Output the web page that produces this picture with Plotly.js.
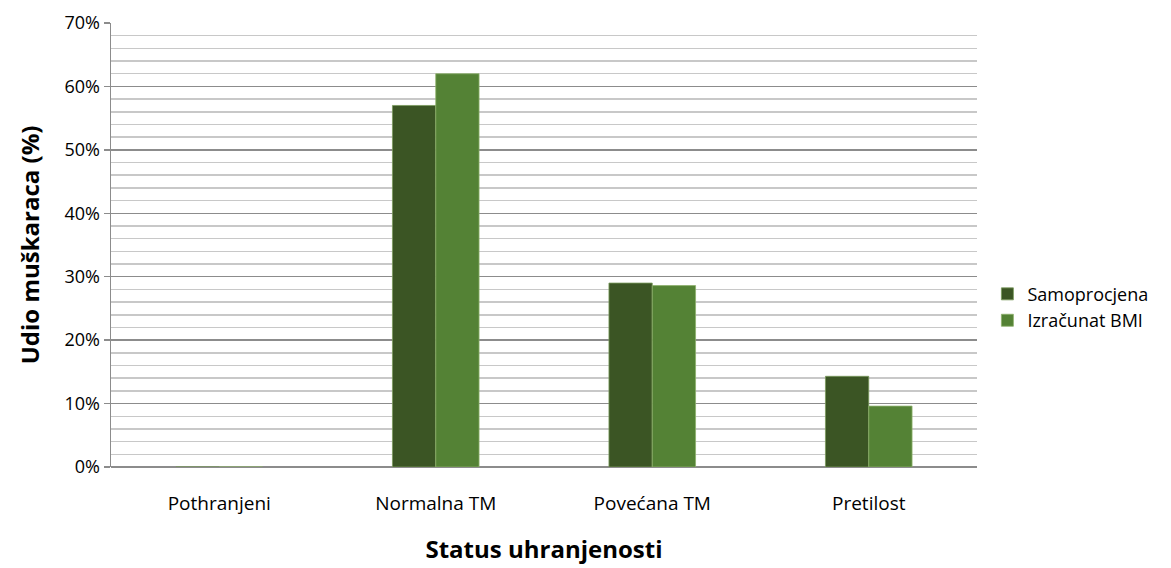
<!DOCTYPE html>
<html>
<head>
<meta charset="utf-8">
<script src="https://cdn.plot.ly/plotly-3.0.1.min.js"></script>
<style>html,body{margin:0;padding:0;background:#fff;}#chart{width:1171px;height:568px;}</style>
</head>
<body>
<div id="chart"></div>
<script>
const categories = ["Pothranjeni", "Normalna TM", "Povećana TM", "Pretilost"];
const samoprocjena = [0, 57.0, 29.0, 14.3];
const izracunatBMI = [0, 62.0, 28.6, 9.6];
const seriesNames = ["Samoprocjena", "Izračunat BMI"];
const yTickVals = [0, 10, 20, 30, 40, 50, 60, 70];
const yTickText = ["0%", "10%", "20%", "30%", "40%", "50%", "60%", "70%"];

const FONT = "'Open Sans', 'Noto Sans', sans-serif";

const traces = [
  {type: "bar", x: categories, y: samoprocjena, name: seriesNames[0],
   marker: {color: "#3B5524", line: {color: "#7A9A5C", width: 0.8}}},
  {type: "bar", x: categories, y: izracunatBMI, name: seriesNames[1],
   marker: {color: "#548235", line: {color: "#8DB06B", width: 0.8}}}
];

const layout = {
  width: 1171, height: 568,
  margin: {l: 111, r: 194, t: 23, b: 101},
  paper_bgcolor: "#fff", plot_bgcolor: "#fff",
  font: {family: FONT, color: "#000", size: 18},
  barmode: "group", bargap: 0.6, bargroupgap: 0,
  showlegend: true,
  legend: {x: 1.012, y: 0.36, xanchor: "left", yanchor: "middle",
           font: {family: FONT, size: 18, color: "#000"}, itemwidth: 30},
  xaxis: {
    type: "category", automargin: false,
    showline: false, showgrid: false, zeroline: false, ticks: "",
    ticklabelstandoff: 23,
    tickfont: {family: FONT, size: 19, color: "#000"},
    title: {text: "<b>Status uhranjenosti</b>", font: {family: FONT, size: 24, color: "#000"}, standoff: 26}
  },
  yaxis: {
    range: [0, 70], tickvals: yTickVals, ticktext: yTickText, automargin: false,
    showline: true, linecolor: "#8c8c8c", linewidth: 1.5,
    ticks: "outside", ticklen: 6, tickcolor: "#8c8c8c", tickwidth: 1.5,
    showgrid: true, gridcolor: "#8c8c8c", gridwidth: 1.5,
    minor: {dtick: 2, showgrid: true, gridcolor: "#c8c8c8", gridwidth: 1.5},
    zeroline: true, zerolinecolor: "#8c8c8c", zerolinewidth: 1.5,
    tickfont: {family: FONT, size: 18, color: "#000"},
    title: {text: "<b>Udio muškaraca (%)</b>", font: {family: FONT, size: 24, color: "#000"}, standoff: 18}
  }
};

Plotly.newPlot("chart", traces, layout, {displayModeBar: false, staticPlot: true});
</script>
</body>
</html>
